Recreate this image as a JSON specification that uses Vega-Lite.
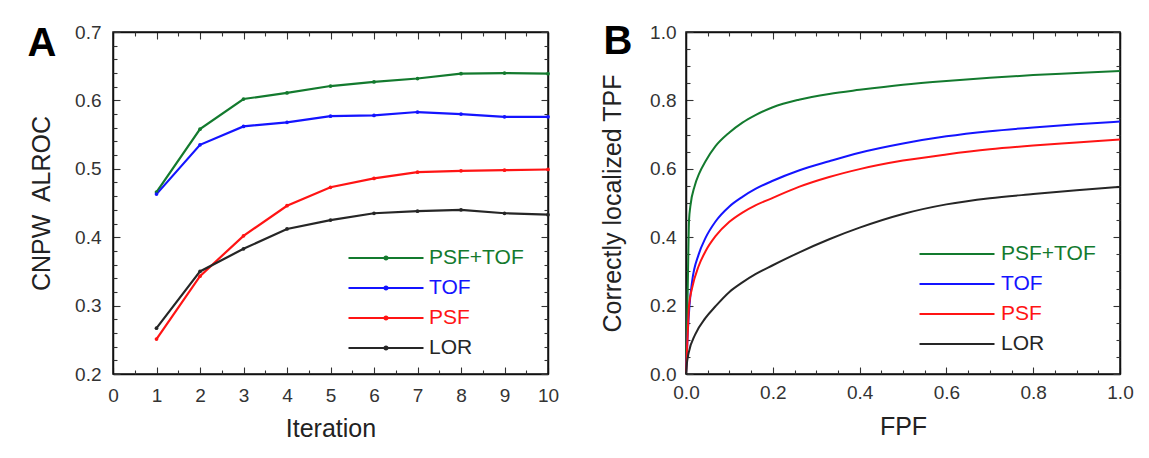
{
  "$schema": "https://vega.github.io/schema/vega-lite/v6.json",
  "background": "white",
  "padding": {"left": 26, "top": 20, "right": 5, "bottom": 5},
  "spacing": 39,
  "resolve": {"scale": {"color": "independent"}, "legend": {"color": "independent"}},
  "config": {
    "font": "Liberation Sans",
    "view": {"stroke": "#111", "strokeWidth": 1.5},
    "axis": {"grid": false, "domainColor": "#111", "domainWidth": 1.5, "tickColor": "#333", "tickWidth": 1.1, "labelFont": "Liberation Sans", "labelFontSize": 19, "labelColor": "#333", "titleFont": "Liberation Sans", "titleFontSize": 25, "titleFontWeight": "normal", "titleColor": "#222", "labelOverlap": false, "labelFlush": false}
  },
  "datasets": {
    "a": [
      {"iter": 1, "auc": 0.466, "series": "PSF+TOF"}, {"iter": 2, "auc": 0.558, "series": "PSF+TOF"}, {"iter": 3, "auc": 0.602, "series": "PSF+TOF"}, {"iter": 4, "auc": 0.611, "series": "PSF+TOF"}, {"iter": 5, "auc": 0.621, "series": "PSF+TOF"}, {"iter": 6, "auc": 0.627, "series": "PSF+TOF"}, {"iter": 7, "auc": 0.632, "series": "PSF+TOF"}, {"iter": 8, "auc": 0.639, "series": "PSF+TOF"}, {"iter": 9, "auc": 0.640, "series": "PSF+TOF"}, {"iter": 10, "auc": 0.639, "series": "PSF+TOF"},
      {"iter": 1, "auc": 0.463, "series": "TOF"}, {"iter": 2, "auc": 0.535, "series": "TOF"}, {"iter": 3, "auc": 0.562, "series": "TOF"}, {"iter": 4, "auc": 0.568, "series": "TOF"}, {"iter": 5, "auc": 0.577, "series": "TOF"}, {"iter": 6, "auc": 0.578, "series": "TOF"}, {"iter": 7, "auc": 0.583, "series": "TOF"}, {"iter": 8, "auc": 0.580, "series": "TOF"}, {"iter": 9, "auc": 0.576, "series": "TOF"}, {"iter": 10, "auc": 0.576, "series": "TOF"},
      {"iter": 1, "auc": 0.251, "series": "PSF"}, {"iter": 2, "auc": 0.343, "series": "PSF"}, {"iter": 3, "auc": 0.402, "series": "PSF"}, {"iter": 4, "auc": 0.446, "series": "PSF"}, {"iter": 5, "auc": 0.473, "series": "PSF"}, {"iter": 6, "auc": 0.486, "series": "PSF"}, {"iter": 7, "auc": 0.495, "series": "PSF"}, {"iter": 8, "auc": 0.497, "series": "PSF"}, {"iter": 9, "auc": 0.498, "series": "PSF"}, {"iter": 10, "auc": 0.499, "series": "PSF"},
      {"iter": 1, "auc": 0.267, "series": "LOR"}, {"iter": 2, "auc": 0.350, "series": "LOR"}, {"iter": 3, "auc": 0.383, "series": "LOR"}, {"iter": 4, "auc": 0.412, "series": "LOR"}, {"iter": 5, "auc": 0.425, "series": "LOR"}, {"iter": 6, "auc": 0.435, "series": "LOR"}, {"iter": 7, "auc": 0.438, "series": "LOR"}, {"iter": 8, "auc": 0.440, "series": "LOR"}, {"iter": 9, "auc": 0.435, "series": "LOR"}, {"iter": 10, "auc": 0.433, "series": "LOR"}
    ],
    "b": [
      {"fpf": 0, "tpf": 0, "series": "PSF+TOF"}, {"fpf": 0.004, "tpf": 0.25, "series": "PSF+TOF"}, {"fpf": 0.007, "tpf": 0.45, "series": "PSF+TOF"}, {"fpf": 0.01, "tpf": 0.49, "series": "PSF+TOF"}, {"fpf": 0.02, "tpf": 0.55, "series": "PSF+TOF"}, {"fpf": 0.03, "tpf": 0.585, "series": "PSF+TOF"}, {"fpf": 0.045, "tpf": 0.622, "series": "PSF+TOF"}, {"fpf": 0.068, "tpf": 0.666, "series": "PSF+TOF"}, {"fpf": 0.1, "tpf": 0.706, "series": "PSF+TOF"}, {"fpf": 0.13, "tpf": 0.735, "series": "PSF+TOF"}, {"fpf": 0.16, "tpf": 0.757, "series": "PSF+TOF"}, {"fpf": 0.2, "tpf": 0.780, "series": "PSF+TOF"}, {"fpf": 0.26, "tpf": 0.802, "series": "PSF+TOF"}, {"fpf": 0.33, "tpf": 0.819, "series": "PSF+TOF"}, {"fpf": 0.4, "tpf": 0.831, "series": "PSF+TOF"}, {"fpf": 0.5, "tpf": 0.846, "series": "PSF+TOF"}, {"fpf": 0.6, "tpf": 0.857, "series": "PSF+TOF"}, {"fpf": 0.7, "tpf": 0.866, "series": "PSF+TOF"}, {"fpf": 0.8, "tpf": 0.874, "series": "PSF+TOF"}, {"fpf": 0.9, "tpf": 0.880, "series": "PSF+TOF"}, {"fpf": 1.0, "tpf": 0.886, "series": "PSF+TOF"},
      {"fpf": 0, "tpf": 0, "series": "TOF"}, {"fpf": 0.004, "tpf": 0.12, "series": "TOF"}, {"fpf": 0.008, "tpf": 0.2, "series": "TOF"}, {"fpf": 0.014, "tpf": 0.27, "series": "TOF"}, {"fpf": 0.029, "tpf": 0.349, "series": "TOF"}, {"fpf": 0.045, "tpf": 0.398, "series": "TOF"}, {"fpf": 0.068, "tpf": 0.446, "series": "TOF"}, {"fpf": 0.1, "tpf": 0.49, "series": "TOF"}, {"fpf": 0.13, "tpf": 0.518, "series": "TOF"}, {"fpf": 0.16, "tpf": 0.541, "series": "TOF"}, {"fpf": 0.2, "tpf": 0.565, "series": "TOF"}, {"fpf": 0.26, "tpf": 0.595, "series": "TOF"}, {"fpf": 0.33, "tpf": 0.622, "series": "TOF"}, {"fpf": 0.4, "tpf": 0.647, "series": "TOF"}, {"fpf": 0.5, "tpf": 0.674, "series": "TOF"}, {"fpf": 0.6, "tpf": 0.695, "series": "TOF"}, {"fpf": 0.7, "tpf": 0.710, "series": "TOF"}, {"fpf": 0.8, "tpf": 0.721, "series": "TOF"}, {"fpf": 0.9, "tpf": 0.730, "series": "TOF"}, {"fpf": 1.0, "tpf": 0.738, "series": "TOF"},
      {"fpf": 0, "tpf": 0, "series": "PSF"}, {"fpf": 0.004, "tpf": 0.12, "series": "PSF"}, {"fpf": 0.007, "tpf": 0.2, "series": "PSF"}, {"fpf": 0.014, "tpf": 0.251, "series": "PSF"}, {"fpf": 0.029, "tpf": 0.315, "series": "PSF"}, {"fpf": 0.045, "tpf": 0.359, "series": "PSF"}, {"fpf": 0.068, "tpf": 0.403, "series": "PSF"}, {"fpf": 0.1, "tpf": 0.445, "series": "PSF"}, {"fpf": 0.13, "tpf": 0.472, "series": "PSF"}, {"fpf": 0.16, "tpf": 0.493, "series": "PSF"}, {"fpf": 0.2, "tpf": 0.515, "series": "PSF"}, {"fpf": 0.26, "tpf": 0.547, "series": "PSF"}, {"fpf": 0.33, "tpf": 0.576, "series": "PSF"}, {"fpf": 0.4, "tpf": 0.599, "series": "PSF"}, {"fpf": 0.5, "tpf": 0.624, "series": "PSF"}, {"fpf": 0.6, "tpf": 0.642, "series": "PSF"}, {"fpf": 0.7, "tpf": 0.657, "series": "PSF"}, {"fpf": 0.8, "tpf": 0.668, "series": "PSF"}, {"fpf": 0.9, "tpf": 0.677, "series": "PSF"}, {"fpf": 1.0, "tpf": 0.686, "series": "PSF"},
      {"fpf": 0, "tpf": 0, "series": "LOR"}, {"fpf": 0.002, "tpf": 0.03, "series": "LOR"}, {"fpf": 0.006, "tpf": 0.061, "series": "LOR"}, {"fpf": 0.021, "tpf": 0.115, "series": "LOR"}, {"fpf": 0.045, "tpf": 0.164, "series": "LOR"}, {"fpf": 0.068, "tpf": 0.198, "series": "LOR"}, {"fpf": 0.1, "tpf": 0.24, "series": "LOR"}, {"fpf": 0.13, "tpf": 0.268, "series": "LOR"}, {"fpf": 0.16, "tpf": 0.292, "series": "LOR"}, {"fpf": 0.2, "tpf": 0.318, "series": "LOR"}, {"fpf": 0.26, "tpf": 0.355, "series": "LOR"}, {"fpf": 0.33, "tpf": 0.394, "series": "LOR"}, {"fpf": 0.4, "tpf": 0.428, "series": "LOR"}, {"fpf": 0.5, "tpf": 0.468, "series": "LOR"}, {"fpf": 0.6, "tpf": 0.496, "series": "LOR"}, {"fpf": 0.7, "tpf": 0.514, "series": "LOR"}, {"fpf": 0.8, "tpf": 0.526, "series": "LOR"}, {"fpf": 0.9, "tpf": 0.537, "series": "LOR"}, {"fpf": 1.0, "tpf": 0.547, "series": "LOR"}
    ]
  },
  "hconcat": [
    {
      "width": 435,
      "height": 342,
      "data": {"name": "a"},
      "layer": [
        {
          "mark": {"type": "line", "strokeWidth": 2.2, "point": {"filled": true, "size": 14}},
          "encoding": {
            "x": {"field": "iter", "type": "quantitative", "scale": {"domain": [0, 10], "nice": false},
              "axis": {"orient": "bottom", "title": "Iteration", "titlePadding": 11, "labelPadding": 19, "tickSize": -7,
                "values": [0, 1, 2, 3, 4, 5, 6, 7, 8, 9, 10], "format": "d"}},
            "y": {"field": "auc", "type": "quantitative", "scale": {"domain": [0.2, 0.7], "nice": false, "zero": false},
              "axis": {"orient": "left", "title": "CNPW\u00a0 ALROC", "titlePadding": 20, "labelPadding": 19, "tickSize": -7,
                "values": [0.2, 0.3, 0.4, 0.5, 0.6, 0.7], "format": ".1f"}},
            "color": {"field": "series", "type": "nominal",
              "scale": {"domain": ["PSF+TOF", "TOF", "PSF", "LOR"], "range": ["#137a2e", "#1414ff", "#ff1414", "#262626"]},
              "legend": {"orient": "none", "legendX": 259, "legendY": 212, "title": null,
                "symbolType": "M-3,0L3,0M-0.12,0a0.12,0.12 0 1,0 0.24,0a0.12,0.12 0 1,0 -0.24,0", "symbolSize": 625, "symbolStrokeWidth": 2.2,
                "labelFontSize": 21, "labelFont": "Liberation Sans", "labelOffset": 29, "rowPadding": 6,
                "encode": {"labels": {"update": {"fill": {"signal": "datum.value === 'PSF+TOF' ? '#137a2e' : datum.value === 'TOF' ? '#1414ff' : datum.value === 'PSF' ? '#ff1414' : '#262626'"}}}}}}
          }
        },
        {
          "mark": {"type": "point", "opacity": 0},
          "encoding": {
            "x": {"field": "iter", "type": "quantitative",
              "axis": {"orient": "top", "labels": false, "tickSize": -7, "values": [0, 1, 2, 3, 4, 5, 6, 7, 8, 9, 10],
                "title": "A", "titleX": -86, "titleY": 23, "titleAlign": "left", "titleBaseline": "alphabetic", "titleAngle": 0, "titleFontSize": 40, "titleFontWeight": "bold", "titleColor": "#000"}},
            "y": {"field": "auc", "type": "quantitative",
              "axis": {"orient": "right", "labels": false, "title": null, "tickSize": -7, "values": [0.2, 0.3, 0.4, 0.5, 0.6, 0.7]}}
          }
        },
        {
          "mark": {"type": "point", "opacity": 0},
          "encoding": {
            "x": {"field": "iter", "type": "quantitative",
              "axis": {"orient": "bottom", "labels": false, "domain": false, "title": null, "tickSize": -4, "values": [0.5, 1.5, 2.5, 3.5, 4.5, 5.5, 6.5, 7.5, 8.5, 9.5]}},
            "y": {"field": "auc", "type": "quantitative",
              "axis": {"orient": "left", "labels": false, "domain": false, "title": null, "tickSize": -4,
                "values": [0.22, 0.24, 0.26, 0.28, 0.32, 0.34, 0.36, 0.38, 0.42, 0.44, 0.46, 0.48, 0.52, 0.54, 0.56, 0.58, 0.62, 0.64, 0.66, 0.68]}}
          }
        },
        {
          "mark": {"type": "point", "opacity": 0},
          "encoding": {
            "x": {"field": "iter", "type": "quantitative",
              "axis": {"orient": "top", "labels": false, "domain": false, "title": null, "tickSize": -4, "values": [0.5, 1.5, 2.5, 3.5, 4.5, 5.5, 6.5, 7.5, 8.5, 9.5]}},
            "y": {"field": "auc", "type": "quantitative",
              "axis": {"orient": "right", "labels": false, "domain": false, "title": null, "tickSize": -4,
                "values": [0.22, 0.24, 0.26, 0.28, 0.32, 0.34, 0.36, 0.38, 0.42, 0.44, 0.46, 0.48, 0.52, 0.54, 0.56, 0.58, 0.62, 0.64, 0.66, 0.68]}}
          }
        }
      ],
      "resolve": {"axis": {"x": "independent", "y": "independent"}}
    },
    {
      "width": 434,
      "height": 342,
      "data": {"name": "b"},
      "layer": [
        {
          "mark": {"type": "line", "strokeWidth": 2, "interpolate": "monotone"},
          "encoding": {
            "x": {"field": "fpf", "type": "quantitative", "scale": {"domain": [0, 1], "nice": false},
              "axis": {"orient": "bottom", "title": "FPF", "titlePadding": 12, "labelPadding": 16, "tickSize": -7,
                "values": [0, 0.2, 0.4, 0.6, 0.8, 1], "format": ".1f"}},
            "y": {"field": "tpf", "type": "quantitative", "scale": {"domain": [0, 1], "nice": false},
              "axis": {"orient": "left", "title": "Correctly localized TPF", "titlePadding": 24, "labelPadding": 17, "tickSize": -7,
                "values": [0, 0.2, 0.4, 0.6, 0.8, 1], "format": ".1f"}},
            "color": {"field": "series", "type": "nominal",
              "scale": {"domain": ["PSF+TOF", "TOF", "PSF", "LOR"], "range": ["#137a2e", "#1414ff", "#ff1414", "#262626"]},
              "legend": {"orient": "none", "legendX": 257, "legendY": 208, "title": null,
                "symbolType": "M-3,0L3,0", "symbolSize": 625, "symbolStrokeWidth": 2.2,
                "labelFontSize": 21, "labelFont": "Liberation Sans", "labelOffset": 30, "rowPadding": 6,
                "encode": {"labels": {"update": {"fill": {"signal": "datum.value === 'PSF+TOF' ? '#137a2e' : datum.value === 'TOF' ? '#1414ff' : datum.value === 'PSF' ? '#ff1414' : '#262626'"}}}}}}
          }
        },
        {
          "mark": {"type": "point", "opacity": 0},
          "encoding": {
            "x": {"field": "fpf", "type": "quantitative",
              "axis": {"orient": "top", "labels": false, "tickSize": -7, "values": [0, 0.2, 0.4, 0.6, 0.8, 1],
                "title": "B", "titleX": -83, "titleY": 21, "titleAlign": "left", "titleBaseline": "alphabetic", "titleAngle": 0, "titleFontSize": 40, "titleFontWeight": "bold", "titleColor": "#000"}},
            "y": {"field": "tpf", "type": "quantitative",
              "axis": {"orient": "right", "labels": false, "title": null, "tickSize": -7, "values": [0, 0.2, 0.4, 0.6, 0.8, 1]}}
          }
        },
        {
          "mark": {"type": "point", "opacity": 0},
          "encoding": {
            "x": {"field": "fpf", "type": "quantitative",
              "axis": {"orient": "bottom", "labels": false, "domain": false, "title": null, "tickSize": -4,
                "values": [0.05, 0.1, 0.15, 0.25, 0.3, 0.35, 0.45, 0.5, 0.55, 0.65, 0.7, 0.75, 0.85, 0.9, 0.95]}},
            "y": {"field": "tpf", "type": "quantitative",
              "axis": {"orient": "left", "labels": false, "domain": false, "title": null, "tickSize": -4,
                "values": [0.05, 0.1, 0.15, 0.25, 0.3, 0.35, 0.45, 0.5, 0.55, 0.65, 0.7, 0.75, 0.85, 0.9, 0.95]}}
          }
        },
        {
          "mark": {"type": "point", "opacity": 0},
          "encoding": {
            "x": {"field": "fpf", "type": "quantitative",
              "axis": {"orient": "top", "labels": false, "domain": false, "title": null, "tickSize": -4,
                "values": [0.05, 0.1, 0.15, 0.25, 0.3, 0.35, 0.45, 0.5, 0.55, 0.65, 0.7, 0.75, 0.85, 0.9, 0.95]}},
            "y": {"field": "tpf", "type": "quantitative",
              "axis": {"orient": "right", "labels": false, "domain": false, "title": null, "tickSize": -4,
                "values": [0.05, 0.1, 0.15, 0.25, 0.3, 0.35, 0.45, 0.5, 0.55, 0.65, 0.7, 0.75, 0.85, 0.9, 0.95]}}
          }
        }
      ],
      "resolve": {"axis": {"x": "independent", "y": "independent"}}
    }
  ]
}
